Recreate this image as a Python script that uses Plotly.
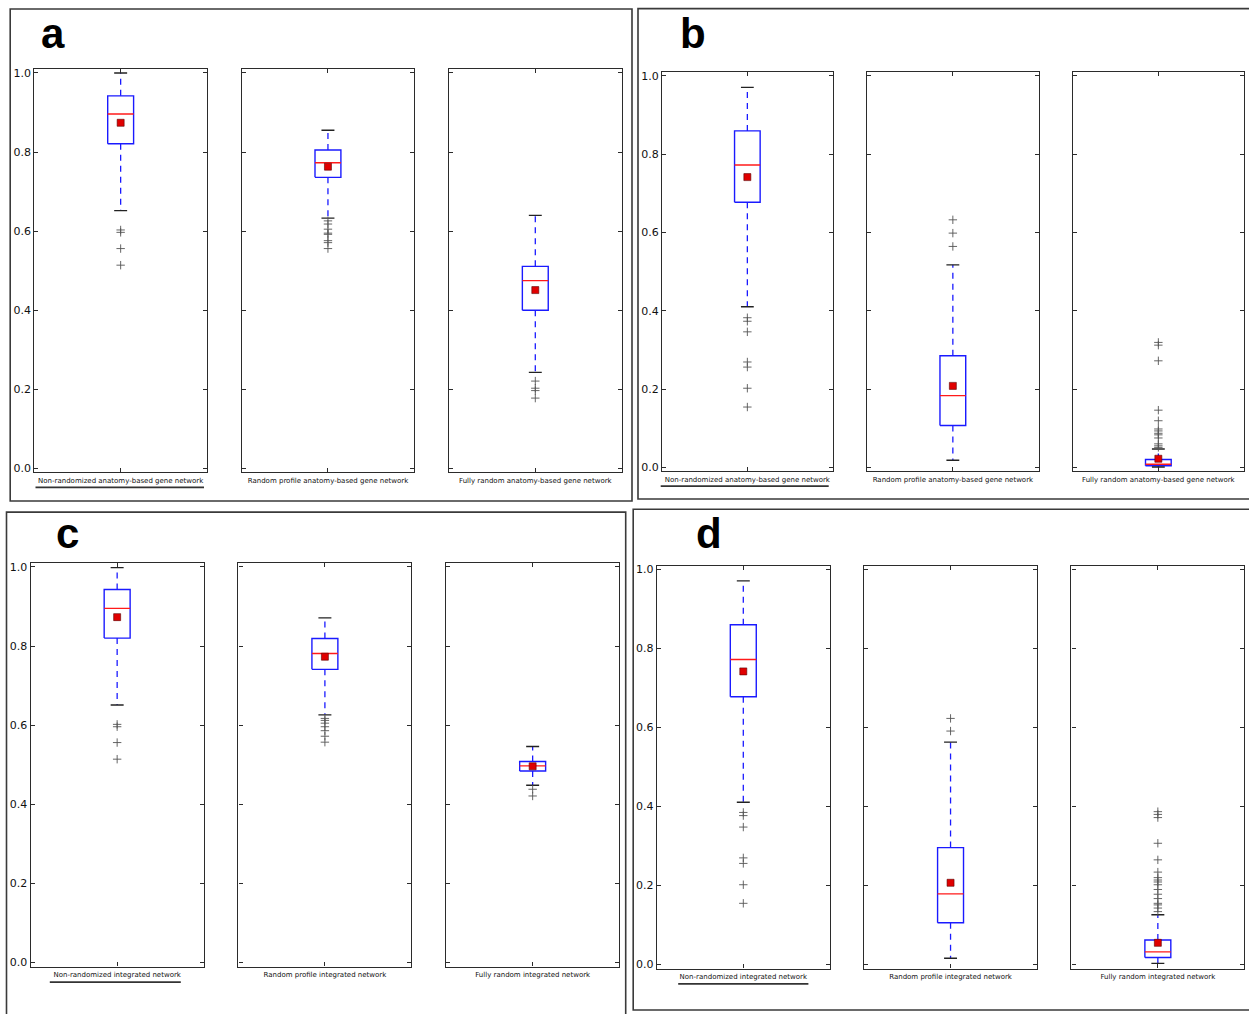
import plotly.graph_objects as go

W, H = 1249, 1014

# ---------------- data ----------------
labels_anatomy = [
    "Non-randomized anatomy-based gene network",
    "Random profile anatomy-based gene network",
    "Fully random anatomy-based gene network",
]
labels_integrated = [
    "Non-randomized integrated network",
    "Random profile integrated network",
    "Fully random integrated network",
]
y_ticks = [0.0, 0.2, 0.4, 0.6, 0.8, 1.0]

# panel a: anatomy-based gene network
a_q1 = [0.821, 0.736, 0.400]
a_median = [0.896, 0.773, 0.475]
a_q3 = [0.942, 0.805, 0.511]
a_low = [0.652, 0.633, 0.243]
a_high = [1.000, 0.855, 0.640]
a_mean = [0.874, 0.763, 0.451]
a_out = [
    [0.603, 0.597, 0.556, 0.514],
    [0.626, 0.618, 0.605, 0.595, 0.592, 0.576, 0.571, 0.556],
    [0.221, 0.203, 0.197, 0.178],
]

# panel b: anatomy-based gene network
b_q1 = [0.677, 0.107, 0.004]
b_median = [0.772, 0.183, 0.008]
b_q3 = [0.859, 0.285, 0.020]
b_low = [0.410, 0.018, 0.001]
b_high = [0.970, 0.517, 0.047]
b_mean = [0.741, 0.208, 0.022]
b_out = [
    [0.382, 0.373, 0.346, 0.269, 0.256, 0.202, 0.154],
    [0.632, 0.598, 0.564],
    [0.319, 0.312, 0.272, 0.146, 0.119, 0.098, 0.093, 0.087, 0.083, 0.075,
     0.060, 0.055, 0.051],
]

# panel c: integrated network
c_q1 = [0.820, 0.741, 0.484]
c_median = [0.895, 0.781, 0.497]
c_q3 = [0.943, 0.819, 0.508]
c_low = [0.651, 0.626, 0.448]
c_high = [0.998, 0.871, 0.546]
c_mean = [0.873, 0.773, 0.496]
c_out = [
    [0.602, 0.596, 0.556, 0.514],
    [0.617, 0.612, 0.605, 0.596, 0.586, 0.572, 0.557],
    [0.438, 0.421],
]

# panel d: integrated network
d_q1 = [0.678, 0.106, 0.018]
d_median = [0.772, 0.179, 0.032]
d_q3 = [0.860, 0.296, 0.062]
d_low = [0.411, 0.016, 0.003]
d_high = [0.971, 0.563, 0.126]
d_mean = [0.742, 0.207, 0.055]
d_out = [
    [0.385, 0.377, 0.348, 0.270, 0.256, 0.202, 0.155],
    [0.623, 0.591],
    [0.387, 0.380, 0.372, 0.307, 0.265, 0.234, 0.220, 0.214, 0.209, 0.202,
     0.190, 0.178, 0.167, 0.155, 0.151, 0.143, 0.134],
]

panels = [
    dict(letter="a", labels=labels_anatomy, q1=a_q1, med=a_median, q3=a_q3,
         low=a_low, high=a_high, mean=a_mean, out=a_out),
    dict(letter="b", labels=labels_anatomy, q1=b_q1, med=b_median, q3=b_q3,
         low=b_low, high=b_high, mean=b_mean, out=b_out),
    dict(letter="c", labels=labels_integrated, q1=c_q1, med=c_median, q3=c_q3,
         low=c_low, high=c_high, mean=c_mean, out=c_out),
    dict(letter="d", labels=labels_integrated, q1=d_q1, med=d_median, q3=d_q3,
         low=d_low, high=d_high, mean=d_mean, out=d_out),
]

# ---------------- geometry (pixels) ----------------
geom = [
    dict(border=(10.2, 7.0, 632.0, 501.5), top=67.3, bottom=472.8,
         cols=[(34.3, 207.0), (241.6, 414.3), (449.0, 621.6)],
         letter_xy=(52.5, 32), underline=(35.5, 204.0, 487.7)),
    dict(border=(638.0, 6.7, 1260.0, 499.5), top=70.1, bottom=471.6,
         cols=[(662.0, 832.7), (867.0, 1038.7), (1072.7, 1244.0)],
         letter_xy=(693.0, 32), underline=(660.7, 828.7, 486.5)),
    dict(border=(6.5, 512.7, 625.7, 1030.0), top=563.7, bottom=969.3,
         cols=[(30.6, 203.7), (238.4, 411.4), (446.1, 619.2)],
         letter_xy=(67.0, 534), underline=(49.8, 180.8, 985.0)),
    dict(border=(633.2, 509.7, 1260.0, 1013.0), top=566.3, bottom=971.3,
         cols=[(656.8, 829.8), (864.1, 1037.0), (1071.4, 1244.3)],
         letter_xy=(708.5, 534), underline=(678.2, 808.4, 986.7)),
]

Y_RANGE = [-0.01, 1.01]
BOX_HALF = 0.075
CAP_HALF = 0.0375
FRAME = "#2b2b2b"
BLUE = "#1a1aff"
RED = "#ff1a1a"


def px_x(v):
    return v / W


def px_y(v):
    return 1 - v / H


fig = go.Figure()
layout_axes = {}
shapes = []
annotations = []

k = 0
for p, g in zip(panels, geom):
    bx0, by0, bx1, by1 = g["border"]
    shapes.append(dict(type="rect", xref="paper", yref="paper",
                       x0=px_x(bx0), x1=px_x(bx1), y0=px_y(by1), y1=px_y(by0),
                       line=dict(color="#3a3a3a", width=1.6), layer="above"))
    ux0, ux1, uy = g["underline"]
    shapes.append(dict(type="line", xref="paper", yref="paper",
                       x0=px_x(ux0), x1=px_x(ux1), y0=px_y(uy), y1=px_y(uy),
                       line=dict(color="#333333", width=1.8)))
    lx, ly = g["letter_xy"]
    annotations.append(dict(text="<b>%s</b>" % p["letter"], xref="paper", yref="paper",
                            x=px_x(lx), y=px_y(ly), xanchor="center", yanchor="middle",
                            showarrow=False,
                            font=dict(family="Liberation Sans", size=42, color="black")))

    for j in range(3):
        k += 1
        sx = "" if k == 1 else str(k)
        xa, ya = "x" + sx, "y" + sx
        q1, med, q3 = p["q1"][j], p["med"][j], p["q3"][j]
        lo, hi, mn = p["low"][j], p["high"][j], p["mean"][j]
        outs = p["out"][j]

        common = dict(xaxis=xa, yaxis=ya, showlegend=False, hoverinfo="skip")
        # whiskers
        fig.add_trace(go.Scatter(x=[1, 1, None, 1, 1], y=[q3, hi, None, q1, lo],
                                 mode="lines",
                                 line=dict(color=BLUE, width=1.3, dash="6px,5px"),
                                 **common))
        # box
        fig.add_trace(go.Scatter(
            x=[1 - BOX_HALF, 1 + BOX_HALF, 1 + BOX_HALF, 1 - BOX_HALF, 1 - BOX_HALF],
            y=[q1, q1, q3, q3, q1], mode="lines",
            line=dict(color=BLUE, width=1.4), **common))
        # caps
        fig.add_trace(go.Scatter(
            x=[1 - CAP_HALF, 1 + CAP_HALF, None, 1 - CAP_HALF, 1 + CAP_HALF],
            y=[hi, hi, None, lo, lo], mode="lines",
            line=dict(color="#222222", width=1.4), **common))
        # median
        fig.add_trace(go.Scatter(x=[1 - BOX_HALF, 1 + BOX_HALF], y=[med, med],
                                 mode="lines", line=dict(color=RED, width=1.4),
                                 **common))
        # outliers
        fig.add_trace(go.Scatter(x=[1] * len(outs), y=outs, mode="markers",
                                 marker=dict(symbol="cross-thin", size=6,
                                             line=dict(color="#555555", width=0.9)),
                                 **common))
        # mean
        fig.add_trace(go.Scatter(x=[1], y=[mn], mode="markers",
                                 marker=dict(symbol="square", size=7, color="#e00000",
                                             line=dict(color="#5a0000", width=0.6)),
                                 **common))

        c0, c1 = g["cols"][j]
        axis_common = dict(showgrid=False, zeroline=False, showline=True,
                           linecolor=FRAME, linewidth=1.2, mirror="allticks",
                           ticks="inside", ticklen=4, tickwidth=1, tickcolor=FRAME)
        layout_axes["xaxis" + sx] = dict(
            domain=[px_x(c0), px_x(c1)], range=[0.5, 1.5], anchor=ya,
            tickvals=[1], ticktext=[p["labels"][j]], ticklabelstandoff=1,
            tickfont=dict(family="DejaVu Sans", size=7, color="#111111"),
            fixedrange=True, **axis_common)
        layout_axes["yaxis" + sx] = dict(
            domain=[px_y(g["bottom"]), px_y(g["top"])], range=Y_RANGE, anchor=xa,
            tickvals=y_ticks, tickformat=".1f", showticklabels=(j == 0),
            tickfont=dict(family="DejaVu Sans", size=11, color="#111111"),
            fixedrange=True, **axis_common)

fig.update_layout(
    width=W, height=H,
    margin=dict(l=0, r=0, t=0, b=0),
    paper_bgcolor="white", plot_bgcolor="white",
    shapes=shapes, annotations=annotations,
    **layout_axes,
)

fig.write_html("out.html")
